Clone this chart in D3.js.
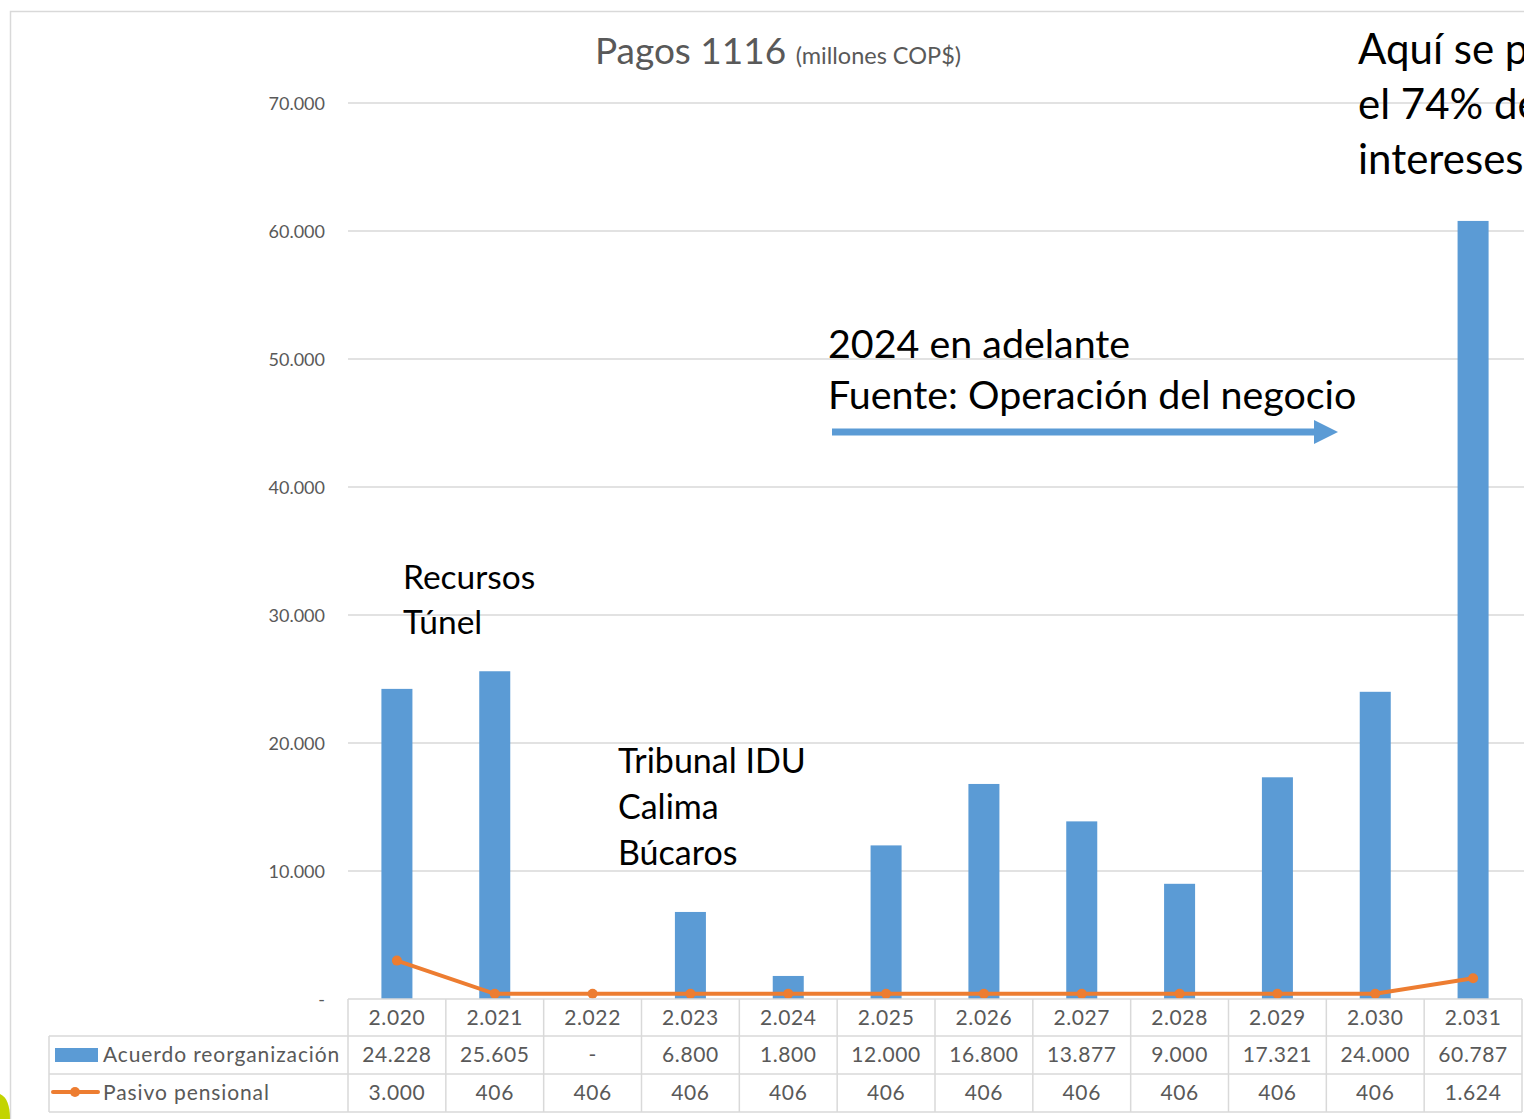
<!DOCTYPE html>
<html>
<head>
<meta charset="utf-8">
<script src="https://cdn.jsdelivr.net/npm/d3@7"></script>
<style>
  body { margin: 0; background: #fff; }
  svg { display: block; font-family: Lato, "Open Sans", sans-serif; }
</style>
</head>
<body>
<div id="chart"></div>
<script>
//Datos
const years = ['2.020','2.021','2.022','2.023','2.024','2.025','2.026','2.027','2.028','2.029','2.030','2.031'];
const acuerdo = [24228, 25605, 0, 6800, 1800, 12000, 16800, 13877, 9000, 17321, 24000, 60787];
const pasivo = [3000, 406, 406, 406, 406, 406, 406, 406, 406, 406, 406, 1624];
const yTicks = [0, 10000, 20000, 30000, 40000, 50000, 60000, 70000];
const seriesNames = ['Acuerdo reorganización', 'Pasivo pensional'];

//Colores fijos
const COLOR_BAR = '#5B9BD5',
COLOR_LINE = '#ED7D31',
COLOR_TEXT = '#595959',
COLOR_GRID = '#D9D9D9';

const W = 1524, H = 1119;

let locale = d3.formatLocale({decimal: ',', thousands: '.', grouping: [3], currency: ['$','']});
let fmt = function(d) { return d == 0 ? '-' : locale.format(',')(d); };

let svg = d3.select('#chart').append('svg')
    .attr('width', W)
    .attr('height', H);

//Marco
svg.append('path')
    .attr('d', 'M10.5,' + H + 'V11.5H' + W)
    .attr('fill', 'none')
    .attr('stroke', COLOR_GRID)
    .attr('stroke-width', 1.5);

//Forma verde abajo a la izquierda
svg.append('path')
    .attr('d', 'M0,1094 C7,1097 10,1106 10,1119 L0,1119 Z')
    .attr('fill', '#C3D400');

//Escalas
let x = d3.scaleBand()
    .domain(years)
    .range([348, 1522])
    .padding(0);

let y = d3.scaleLinear()
    .domain([0, 70000])
    .range([999, 103]);

let barW = x.bandwidth() * 0.317;
let cx = function(d) { return x(d) + x.bandwidth() / 2; };

//Rejilla
svg.append('g')
    .selectAll('line')
    .data(yTicks.filter(function(d) { return d > 0; }))
    .enter()
    .append('line')
    .attr('x1', 348)
    .attr('x2', W)
    .attr('y1', function(d) { return y(d); })
    .attr('y2', function(d) { return y(d); })
    .attr('stroke', COLOR_GRID)
    .attr('stroke-width', 1.5);

//Eje Y
svg.append('g')
    .selectAll('text')
    .data(yTicks)
    .enter()
    .append('text')
    .attr('x', 325)
    .attr('y', function(d) { return y(d) + 1; })
    .attr('dy', '0.35em')
    .attr('text-anchor', 'end')
    .attr('fill', COLOR_TEXT)
    .style('font-size', '18px')
    .text(fmt);

//Titulo
let title = svg.append('text')
    .attr('x', 778)
    .attr('y', 64)
    .attr('text-anchor', 'middle')
    .attr('fill', COLOR_TEXT);
title.append('tspan').style('font-size', '37px').text('Pagos 1116 ');
title.append('tspan').style('font-size', '23.5px').text('(millones COP$)');

//Barras
svg.append('g')
    .selectAll('rect')
    .data(years)
    .enter()
    .append('rect')
    .attr('x', function(d) { return cx(d) - barW / 2; })
    .attr('y', function(d, i) { return y(acuerdo[i]); })
    .attr('width', barW)
    .attr('height', function(d, i) { return y(0) - y(acuerdo[i]); })
    .attr('fill', COLOR_BAR);

//Linea
let line = d3.line()
    .x(function(d, i) { return cx(years[i]); })
    .y(function(d) { return y(d); });

svg.append('path')
    .datum(pasivo)
    .attr('d', line)
    .attr('fill', 'none')
    .attr('stroke', COLOR_LINE)
    .attr('stroke-width', 4);

svg.append('g')
    .selectAll('circle')
    .data(pasivo)
    .enter()
    .append('circle')
    .attr('cx', function(d, i) { return cx(years[i]); })
    .attr('cy', function(d) { return y(d); })
    .attr('r', 5)
    .attr('fill', COLOR_LINE);

//Tabla
let rowY = [999, 1036, 1074, 1112];
let tableLeft = 49, tableRight = x.range()[1];
let grid = svg.append('g').attr('stroke', COLOR_GRID).attr('stroke-width', 1.5);
grid.append('line').attr('x1', 348).attr('x2', tableRight).attr('y1', rowY[0]).attr('y2', rowY[0]);
[1, 2, 3].forEach(function(r) {
    grid.append('line').attr('x1', tableLeft).attr('x2', tableRight).attr('y1', rowY[r]).attr('y2', rowY[r]);
});
grid.append('line').attr('x1', tableLeft).attr('x2', tableLeft).attr('y1', rowY[1]).attr('y2', rowY[3]);
years.forEach(function(d) {
    grid.append('line').attr('x1', x(d)).attr('x2', x(d)).attr('y1', rowY[0]).attr('y2', rowY[3]);
});
grid.append('line').attr('x1', tableRight).attr('x2', tableRight).attr('y1', rowY[0]).attr('y2', rowY[3]);

let rows = [years, acuerdo.map(fmt), pasivo.map(fmt)];
rows.forEach(function(row, r) {
    svg.append('g')
        .selectAll('text')
        .data(row)
        .enter()
        .append('text')
        .attr('x', function(d, i) { return cx(years[i]); })
        .attr('y', (rowY[r] + rowY[r + 1]) / 2)
        .attr('dy', '0.35em')
        .attr('text-anchor', 'middle')
        .attr('fill', COLOR_TEXT)
        .style('font-size', '21px')
        .style('letter-spacing', '0.6px')
        .text(function(d) { return d; });
});

//Leyenda en tabla
svg.append('rect')
    .attr('x', 55).attr('y', 1048).attr('width', 43).attr('height', 14)
    .attr('fill', COLOR_BAR);
svg.append('line')
    .attr('x1', 53).attr('x2', 98).attr('y1', 1092).attr('y2', 1092)
    .attr('stroke', COLOR_LINE).attr('stroke-width', 4).attr('stroke-linecap', 'round');
svg.append('circle')
    .attr('cx', 75).attr('cy', 1092).attr('r', 5)
    .attr('fill', COLOR_LINE);
svg.append('g')
    .selectAll('text')
    .data(seriesNames)
    .enter()
    .append('text')
    .attr('x', 103)
    .attr('y', function(d, i) { return (rowY[i + 1] + rowY[i + 2]) / 2; })
    .attr('dy', '0.35em')
    .attr('fill', COLOR_TEXT)
    .style('font-size', '21px')
    .style('letter-spacing', '0.9px')
    .text(function(d) { return d; });

//Anotaciones
let notes = [
    {x: 403, y: 589, size: 33.5, lines: ['Recursos', 'Túnel'], lh: 45},
    {x: 618, y: 773, size: 34, lines: ['Tribunal IDU', 'Calima', 'Búcaros'], lh: 46},
    {x: 828, y: 358, size: 39.4, lines: ['2024 en adelante', 'Fuente: Operación del negocio'], lh: 51},
    {x: 1358, y: 64, size: 42, lines: ['Aquí se pagan', 'el 74% de los', 'intereses'], lh: 55}
];
notes.forEach(function(n) {
    let t = svg.append('text')
        .attr('x', n.x)
        .attr('y', n.y)
        .attr('fill', '#000')
        .style('font-size', n.size + 'px');
    n.lines.forEach(function(l, i) {
        t.append('tspan').attr('x', n.x).attr('y', n.y + i * n.lh).text(l);
    });
});

//Flecha
svg.append('line')
    .attr('x1', 832).attr('x2', 1316).attr('y1', 432).attr('y2', 432)
    .attr('stroke', COLOR_BAR).attr('stroke-width', 7);
svg.append('path')
    .attr('d', 'M1314,420 L1338,432 L1314,444 Z')
    .attr('fill', COLOR_BAR);
</script>
</body>
</html>
